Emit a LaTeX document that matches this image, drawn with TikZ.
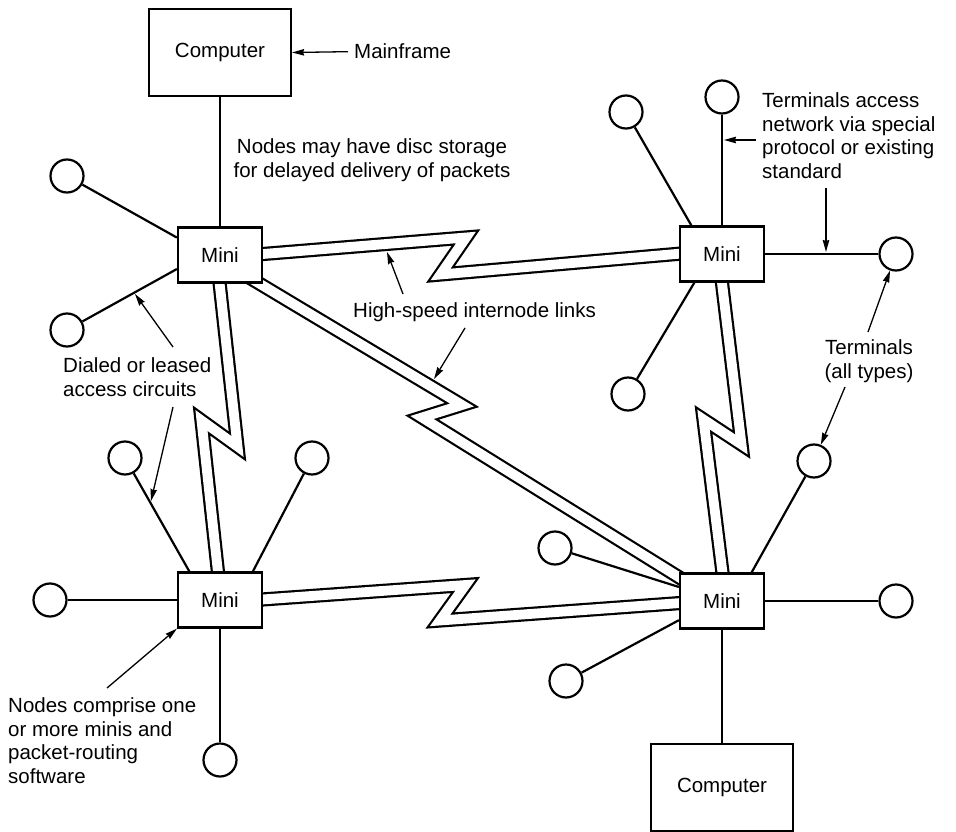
\documentclass[tikz,border=0pt]{standalone}
\usepackage{fontspec}
\setmainfont{Liberation Sans}
\usetikzlibrary{arrows.meta,calc,backgrounds}

\begin{document}
\begin{tikzpicture}[x=1pt,y=-1pt,
  every node/.style={font=\fontsize{20.5}{23.7}\selectfont},
  wire/.style={line width=2.2pt},
  mini/.style={draw,line width=2.2pt,fill=white,minimum width=84pt,minimum height=55pt,inner sep=0pt},
  host/.style={draw,line width=2.2pt,fill=white,minimum width=142pt,minimum height=87pt,inner sep=0pt},
  term/.style={draw,line width=2.2pt,fill=white,circle,minimum size=33pt,inner sep=0pt},
  link/.style={line width=2.2pt,double=white,double distance=9.8pt,line join=miter},
  label/.style={inner sep=0pt},
  callout/.style={line width=1.3pt,-{Stealth[length=12pt,width=6.5pt,inset=1pt]}}]

\useasboundingbox (0,0) rectangle (956,832);

% host computers
\node[host] (c1) at (220,52.5) {Computer};
\node[host] (c2) at (722,787.5) {Computer};

% switching nodes
\node[mini] (m1) at (220,255) {Mini};
\node[mini] (m2) at (722,254) {Mini};
\node[mini] (m3) at (220,600) {Mini};
\node[mini] (m4) at (722,601) {Mini};

% terminals
\node[term] (t1) at (67,176) {};
\node[term] (t2) at (67,330) {};
\node[term] (ta) at (626,112) {};
\node[term] (tb) at (722,97) {};
\node[term] (tc) at (896,254) {};
\node[term] (td) at (628,394) {};
\node[term] (te) at (50,600) {};
\node[term] (tf) at (125,458) {};
\node[term] (tg) at (312,458) {};
\node[term] (th) at (220,760) {};
\node[term] (ti) at (555,548) {};
\node[term] (tj) at (566,681) {};
\node[term] (tk) at (814,461) {};
\node[term] (tl) at (896,601) {};

% access circuits
\draw[wire] (c1) -- (m1);
\draw[wire] (t1) -- (m1.158);
\draw[wire] (t2) -- (m1.198);
\draw[wire] (ta) -- (m2.137);
\draw[wire] (tb) -- (m2);
\draw[wire] (m2) -- (tc);
\draw[wire] (td) -- (m2.226);
\draw[wire] (te) -- (m3);
\draw[wire] (tf) -- (m3.137);
\draw[wire] (tg) -- (m3.41);
\draw[wire] (m3) -- (th);
\draw[wire] (ti) -- (m4.162);
\draw[wire] (tj) -- (m4.204);
\draw[wire] (tk) -- (m4.44);
\draw[wire] (m4) -- (tl);
\draw[wire] (m4) -- (c2);

% high-speed internode links (zigzag double lines, tucked under the boxes)
\begin{scope}[on background layer]
  \draw[link] ($(m1.center)+(0,2.5)$) -- (466,237.5) -- (440.5,274.5) -- ($(m2.center)+(0,-4)$);
  \draw[link] ($(m1.center)+(0,5)$) -- (462,405) -- (422,417.5) -- ($(m4.center)+(0,3)$);
  \draw[link] ($(m1.center)+(-3.5,0)$) -- (237.5,446.5) -- (201.5,420.5) -- ($(m3.center)+(1,0)$);
  \draw[link] ($(m2.center)+(-3.5,0)$) -- (741.5,444.5) -- (703.5,419.5) -- ($(m4.center)+(4,0)$);
  \draw[link] ($(m3.center)+(0,2.5)$) -- (465.5,585) -- (440,620.5) -- ($(m4.center)+(0,-1)$);
\end{scope}

% labels
\node[label,anchor=base west] (mf) at (354,59) {Mainframe};
\node[label,anchor=north,align=center] (disc) at (372,138.5)
  {Nodes may have disc storage\\for delayed delivery of packets};
\node[label,anchor=base west] (hs) at (353,317) {High-speed internode links};
\node[label,anchor=north west,align=left] (dial) at (63,357.5)
  {Dialed or leased\\access circuits};
\node[label,anchor=north west,align=left] (comp) at (8,697.5)
  {Nodes comprise one\\or more minis and\\packet-routing\\software};
\node[label,anchor=north west,align=left] (acc) at (762,92.5)
  {Terminals access\\network via special\\protocol or existing\\standard};
\node[label,anchor=north,align=center] (tt) at (869,339.5)
  {Terminals\\(all types)};

% callout arrows
\coordinate (hsA) at (403,294);   \coordinate (hsAtip) at (387,252);
\coordinate (hsB) at (465,328);   \coordinate (hsBtip) at (434,379);
\coordinate (dlA) at (173,347);   \coordinate (dlAtip) at (135,294);
\coordinate (dlB) at (173,407);   \coordinate (dlBtip) at (151,501);
\coordinate (cpA) at (107,688);
\coordinate (acA) at (756,140);   \coordinate (acAtip) at (724,140);
\coordinate (acB) at (826,188);   \coordinate (acBtip) at (826,252);
\coordinate (ttA) at (868,332);
\coordinate (ttB) at (845,387);

\draw[callout] ([xshift=-6pt]mf.west) -- (c1.east);
\draw[callout] (hsA) -- (hsAtip);
\draw[callout] (hsB) -- (hsBtip);
\draw[callout] (dlA) -- (dlAtip);
\draw[callout] (dlB) -- (dlBtip);
\draw[callout] (cpA) -- (m3.south west);
\draw[callout] (acA) -- (acAtip);
\draw[callout] (acB) -- (acBtip);
\draw[callout] (ttA) -- (tc);
\draw[callout] (ttB) -- (tk);
\end{tikzpicture}
\end{document}
